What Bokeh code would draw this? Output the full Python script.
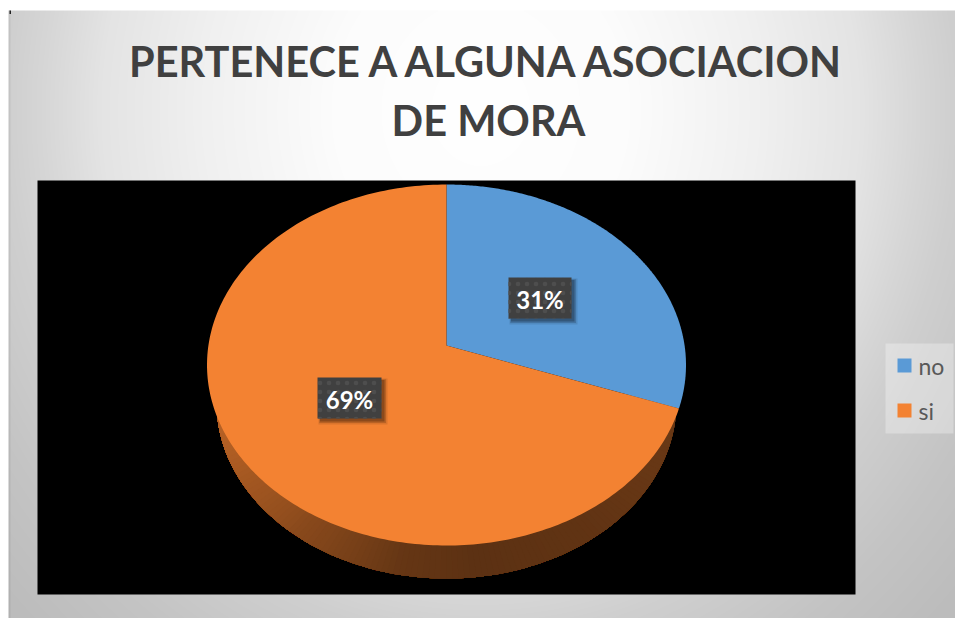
import numpy as np
from bokeh.plotting import figure
from bokeh.models import Range1d
from bokeh.core.properties import value
from bokeh.embed import file_html
from bokeh.resources import INLINE

# --- data ---
categories = ["no", "si"]
shares = [31, 69]
percent_labels = ["31%", "69%"]
title_lines = ["PERTENECE A ALGUNA ASOCIACION", "DE MORA"]
colors = ["#5A9AD6", "#F38232"]

# --- layout (page pixels) ---
W, H = 955, 618
def X(px): return np.atleast_1d(np.asarray(px, dtype=float))
def Y(py): return H - np.atleast_1d(np.asarray(py, dtype=float))

p = figure(width=W, height=H, x_range=Range1d(0, W), y_range=Range1d(0, H),
           toolbar_location=None, output_backend="svg", min_border=0)
p.axis.visible = False
p.grid.visible = False
p.outline_line_color = None
p.background_fill_color = "white"
p.border_fill_color = "white"

# gradient chart background
ys, xs = np.mgrid[0:H, 0:W]
px, py = xs, H - 1 - ys
d = np.hypot(px - 480, (py - 110) * 0.9)
g = np.interp(d, [0, 150, 280, 380, 440, 475, 560, 650],
              [255, 252, 240, 228, 214, 207, 196, 188]).astype(np.uint32)
g[px < 10] -= 12
img = (255 << 24) | (g << 16) | (g << 8) | g
img[(py < 10) | (px < 8)] = 0xFFFFFFFF
p.image_rgba(image=[img], x=0, y=0, dw=W, dh=H)

# small mark in the top-left corner of the picture
p.quad(left=X(9), right=X(10.5), top=Y(10), bottom=Y(13.5), fill_color="#222222", line_color=None)

# black plot area
p.quad(left=X(37), right=X(855), top=Y(180), bottom=Y(594), fill_color="black", line_color=None)

# pie geometry: the rim is a perspective ellipse, the apex sits above its centre
ax, ay = 446, 345
cx, cy, rx, ry = 446, 364.5, 239.5, 180.5
bcy, brx, bry = 402, 230, 176
PERSP = -0.143
def rim_angle(theta):
    return theta + PERSP * np.sin(theta)
def ell(t):
    return cx + rx * np.sin(t), cy - ry * np.cos(t)
def bottom(t):
    return cx + brx * np.sin(t), bcy - bry * np.cos(t)

fr = np.cumsum([0] + shares) / sum(shares) * 2 * np.pi
edges = rim_angle(fr)
ORANGE = (0xF3, 0x82, 0x32)

# side wall, painted back to front so that no seams show between the shades
def shade(x, base):
    f = np.interp(x, [207, 240, 300, 400, 480, 600, 690], [0.78, 0.68, 0.56, 0.42, 0.38, 0.40, 0.44])
    return "#%02x%02x%02x" % tuple(int(c * f) for c in base)

ts = np.linspace(np.pi / 2, 3 * np.pi / 2, 121)
for i in range(len(ts) - 1):
    tail = ts[i:]
    bx, by = bottom(tail)
    c = shade(bx[0], ORANGE)
    p.patch(X(np.r_[cx, bx]), Y(np.r_[cy, by]), fill_color=c, line_color=None)

# top surface
for i in range(2):
    tt = np.linspace(edges[i], edges[i + 1], 240)
    ex, ey = ell(tt)
    p.patch(X(np.r_[ax, ex]), Y(np.r_[ay, ey]), fill_color=colors[i], line_color=None)

# data labels: box, soft shadow, text
label_boxes = [(508, 571, 277, 318), (317, 381, 377, 418)]
for (l, r, t, b), txt in zip(label_boxes, percent_labels):
    for k, a in zip([6, 4.5, 3], [0.10, 0.16, 0.24]):
        p.quad(left=X(l + 4 - k / 2), right=X(r + k), top=Y(t + 4 - k / 2), bottom=Y(b + k),
               fill_color="black", fill_alpha=a, line_color=None)
    p.quad(left=X(l), right=X(r), top=Y(t), bottom=Y(b), fill_color="#404040", line_color=None,
           hatch_pattern="dot", hatch_color="#4e4e4e", hatch_scale=9, hatch_weight=1)
    p.text(x=X((l + r) / 2), y=Y((t + b) / 2 + 1), text=[txt], text_color="white",
           text_font=value("Lato"), text_font_style="bold", text_font_size="24px",
           text_align="center", text_baseline="middle")

# title
for line, yy in zip(title_lines, [60, 119]):
    p.text(x=X(488), y=Y(yy), text=[line], text_color="#404040", text_font=value("Lato"),
           text_font_style="bold", text_font_size="41.5px", text_align="center", text_baseline="middle")

# legend
p.quad(left=X(885), right=X(953), top=Y(343), bottom=Y(433), fill_color="white", fill_alpha=0.3, line_color=None)
for cat, col, yy in zip(categories, colors, [365, 410]):
    p.quad(left=X(897), right=X(911), top=Y(yy - 7), bottom=Y(yy + 7), fill_color=col, line_color=None)
    p.text(x=X(918), y=Y(yy), text=[cat], text_color="#595959", text_font=value("Lato"),
           text_font_size="23px", text_align="left", text_baseline="middle")

open("out.html", "w").write(file_html(p, INLINE))
